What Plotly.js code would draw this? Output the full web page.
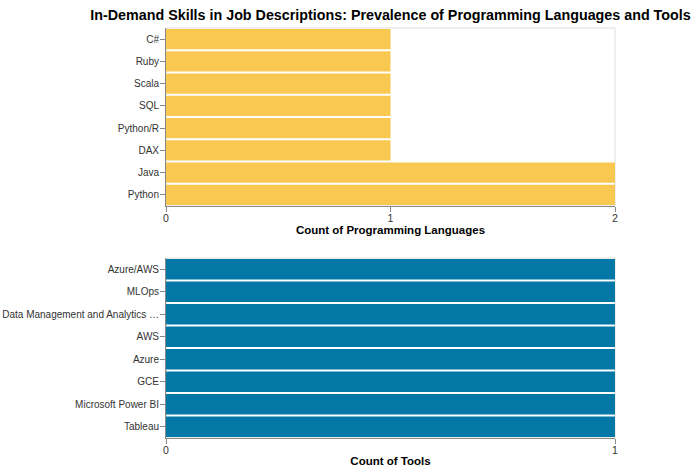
<!DOCTYPE html>
<html>
<head>
<meta charset="utf-8">
<script src="https://cdn.plot.ly/plotly-3.0.1.min.js"></script>
<style>
  html, body { margin: 0; padding: 0; background: #fff; }
  #chart { width: 698px; height: 476px; }
</style>
</head>
<body>
<div id="chart"></div>
<script>
// programming languages (top to bottom as drawn)
const langNames = ['C#', 'Ruby', 'Scala', 'SQL', 'Python/R', 'DAX', 'Java', 'Python'];
const langCounts = [1, 1, 1, 1, 1, 1, 2, 2];

// tools (top to bottom as drawn)
const toolNames = ['Azure/AWS', 'MLOps', 'Data Management and Analytics \u2026', 'AWS', 'Azure', 'GCE', 'Microsoft Power BI', 'Tableau'];
const toolCounts = [1, 1, 1, 1, 1, 1, 1, 1];

const COLORS = { lang: '#f9c851', tool: '#0377a5', domain: '#888', frame: '#ddd', text: '#333' };
const FONT = 'Liberation Sans, Arial, sans-serif';

const traces = [
    {
        type: 'bar', orientation: 'h',
        x: langCounts, y: langNames,
        marker: { color: COLORS.lang, line: { width: 0 } },
        xaxis: 'x', yaxis: 'y',
        hoverinfo: 'x+y'
    },
    {
        type: 'bar', orientation: 'h',
        x: toolCounts, y: toolNames,
        marker: { color: COLORS.tool, line: { width: 0 } },
        xaxis: 'x2', yaxis: 'y2',
        hoverinfo: 'x+y'
    }
];

const xAxisBase = {
    showgrid: false, zeroline: false,
    showline: true, linecolor: COLORS.domain, linewidth: 1,
    ticks: 'outside', ticklen: 5, tickcolor: COLORS.domain,
    tickfont: { family: FONT, size: 10.5, color: COLORS.text },
    ticklabelstandoff: -3,
    fixedrange: true
};
const yAxisBase = {
    showgrid: false, zeroline: false,
    showline: true, linecolor: COLORS.domain, linewidth: 1,
    ticks: 'outside', ticklen: 5, tickcolor: COLORS.domain,
    tickfont: { family: FONT, size: 10, color: COLORS.text },
    ticklabelstandoff: -1,
    autorange: 'reversed', type: 'category',
    fixedrange: true
};

// frame around each view, like the light border of the original
const frame = (xr, yr) => ({
    type: 'rect', xref: xr + ' domain', yref: yr + ' domain',
    x0: 0, x1: 1, y0: 0, y1: 1,
    line: { color: COLORS.frame, width: 1 }, layer: 'below'
});

const axisTitleFont = { family: FONT, size: 11.5, color: '#000' };

const layout = {
    width: 698, height: 476,
    margin: { l: 166, r: 83, t: 28, b: 38 },
    paper_bgcolor: '#fff', plot_bgcolor: '#fff',
    font: { family: FONT, color: COLORS.text },
    showlegend: false,
    bargap: 0.09,
    title: {
        text: '<b>In-Demand Skills in Job Descriptions: Prevalence of Programming Languages and Tools</b>',
        font: { family: FONT, size: 14.3, color: '#000' },
        x: 0.5, xref: 'paper', xanchor: 'center',
        y: 1, yref: 'paper', yanchor: 'bottom', pad: { b: 8 }
    },
    xaxis: Object.assign({}, xAxisBase, {
        domain: [0, 1], anchor: 'y', range: [0, 2], tickvals: [0, 1, 2],
        title: { text: '<b>Count of Programming Languages</b>', font: axisTitleFont, standoff: 2 }
    }),
    yaxis: Object.assign({}, yAxisBase, { domain: [0.566, 1], anchor: 'x' }),
    xaxis2: Object.assign({}, xAxisBase, {
        domain: [0, 1], anchor: 'y2', range: [0, 1], tickvals: [0, 1],
        title: { text: '<b>Count of Tools</b>', font: axisTitleFont, standoff: 2 }
    }),
    yaxis2: Object.assign({}, yAxisBase, { domain: [0, 0.439], anchor: 'x2' }),
    shapes: [frame('x', 'y'), frame('x2', 'y2')]
};

Plotly.newPlot('chart', traces, layout, { displayModeBar: false, responsive: false });
</script>
</body>
</html>
